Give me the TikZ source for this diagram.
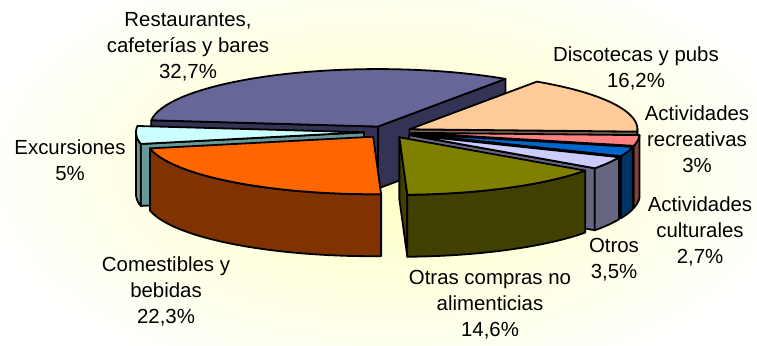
\documentclass[tikz,border=0pt]{standalone}
\usepackage{fontspec}
\setmainfont{Liberation Sans}
\usetikzlibrary{calc}

\definecolor{restTop}{HTML}{666699}
\definecolor{restSide}{HTML}{333355}
\definecolor{excuTop}{HTML}{CCFFFF}
\definecolor{excuSide}{HTML}{669999}
\definecolor{comeTop}{HTML}{FF6600}
\definecolor{comeSide}{HTML}{803300}
\definecolor{otrasTop}{HTML}{808000}
\definecolor{otrasSide}{HTML}{404000}
\definecolor{otrosTop}{HTML}{CCCCFF}
\definecolor{otrosSide}{HTML}{666680}
\definecolor{cultTop}{HTML}{0066CC}
\definecolor{cultSide}{HTML}{003366}
\definecolor{recrTop}{HTML}{FF8080}
\definecolor{recrSide}{HTML}{804040}
\definecolor{discTop}{HTML}{FFCC99}
\definecolor{discSide}{HTML}{806650}
\definecolor{glow}{RGB}{255,255,192}

% apex of an exploded slice from its start and end angle
\newcommand{\sliceapex}[2]{%
  \pgfmathsetmacro{\sax}{388+24*cos((#1+#2)/2)}%
  \pgfmathsetmacro{\say}{132-6*sin((#1+#2)/2)}}
% radial wall at an angle
\newcommand{\slicewall}[2]{%
  \filldraw[fill=#2] (\sax,\say) -- ({\sax+228*cos(#1)},{\say-57.5*sin(#1)}) -- ++(0,62) -- ({\sax},{\say+62}) -- cycle;}
% outer side between two angles
\newcommand{\sliceside}[3]{%
  \filldraw[fill=#3] plot[domain=#1:#2, samples=30] ({\sax+228*cos(\x)},{\say-57.5*sin(\x)})
    -- plot[domain=#2:#1, samples=30] ({\sax+228*cos(\x)},{\say+62-57.5*sin(\x)}) -- cycle;}
% top face
\newcommand{\slicetop}[3]{%
  \filldraw[fill=#3] (\sax,\say) -- plot[domain=#1:#2, samples=40] ({\sax+228*cos(\x)},{\say-57.5*sin(\x)}) -- cycle;}

\begin{document}
\begin{tikzpicture}[x=0.5pt, y=-0.5pt, line width=0.9pt, line join=round,
    lbl/.style={align=center, inner sep=0pt, font=\fontsize{10.2}{13}\selectfont}]
    \useasboundingbox (0,0) rectangle (757,345);
    \fill[white] (0,0) rectangle (757,345);
    \shade[inner color=glow, outer color=white] (388,170) ellipse [x radius=420, y radius=230];

    % Restaurantes
    \sliceapex{56}{173.7}
    \slicewall{173.7}{restSide}
    \slicewall{56}{restSide}
    \slicetop{56}{173.7}{restTop}
    % Discotecas
    \sliceapex{357.7}{416}
    \slicewall{357.7}{discSide}
    \sliceside{357.7}{360}{discSide}
    \slicetop{357.7}{416}{discTop}
    % Actividades recreativas
    \sliceapex{346.9}{357.7}
    \slicewall{346.9}{recrSide}
    \sliceside{346.9}{357.7}{recrSide}
    \slicetop{346.9}{357.7}{recrTop}
    % Actividades culturales
    \sliceapex{337.2}{346.9}
    \slicewall{337.2}{cultSide}
    \sliceside{337.2}{346.9}{cultSide}
    \slicetop{337.2}{346.9}{cultTop}
    % Otros
    \sliceapex{324.6}{337.2}
    \slicewall{324.6}{otrosSide}
    \sliceside{324.6}{337.2}{otrosSide}
    \slicetop{324.6}{337.2}{otrosTop}
    % Excursiones
    \sliceapex{173.7}{191.7}
    \slicewall{191.7}{excuSide}
    \sliceside{180}{191.7}{excuSide}
    \slicetop{173.7}{191.7}{excuTop}
    % Comestibles
    \sliceapex{191.7}{272}
    \sliceside{191.7}{272}{comeSide}
    \slicetop{191.7}{272}{comeTop}
    % Otras compras
    \sliceapex{272}{324.6}
    \slicewall{272}{otrasSide}
    \sliceside{272}{324.6}{otrasSide}
    \slicetop{272}{324.6}{otrasTop}

    \node[lbl] (rest) at (188,47) {Restaurantes,\\cafeterías y bares\\32,7\%};
    \node[lbl] (disc) at (636,68) {Discotecas y pubs\\16,2\%};
    \node[lbl] (recr) at (697,139) {Actividades\\recreativas\\3\%};
    \node[lbl] (excu) at (70,160) {Excursiones\\5\%};
    \node[lbl] (cult) at (700,231) {Actividades\\culturales\\2,7\%};
    \node[lbl] (otros) at (614,260) {Otros\\3,5\%};
    \node[lbl] (come) at (166,291) {Comestibles y\\bebidas\\22,3\%};
    \node[lbl] (otras) at (490,305) {Otras compras no\\alimenticias\\14,6\%};
\end{tikzpicture}
\end{document}
